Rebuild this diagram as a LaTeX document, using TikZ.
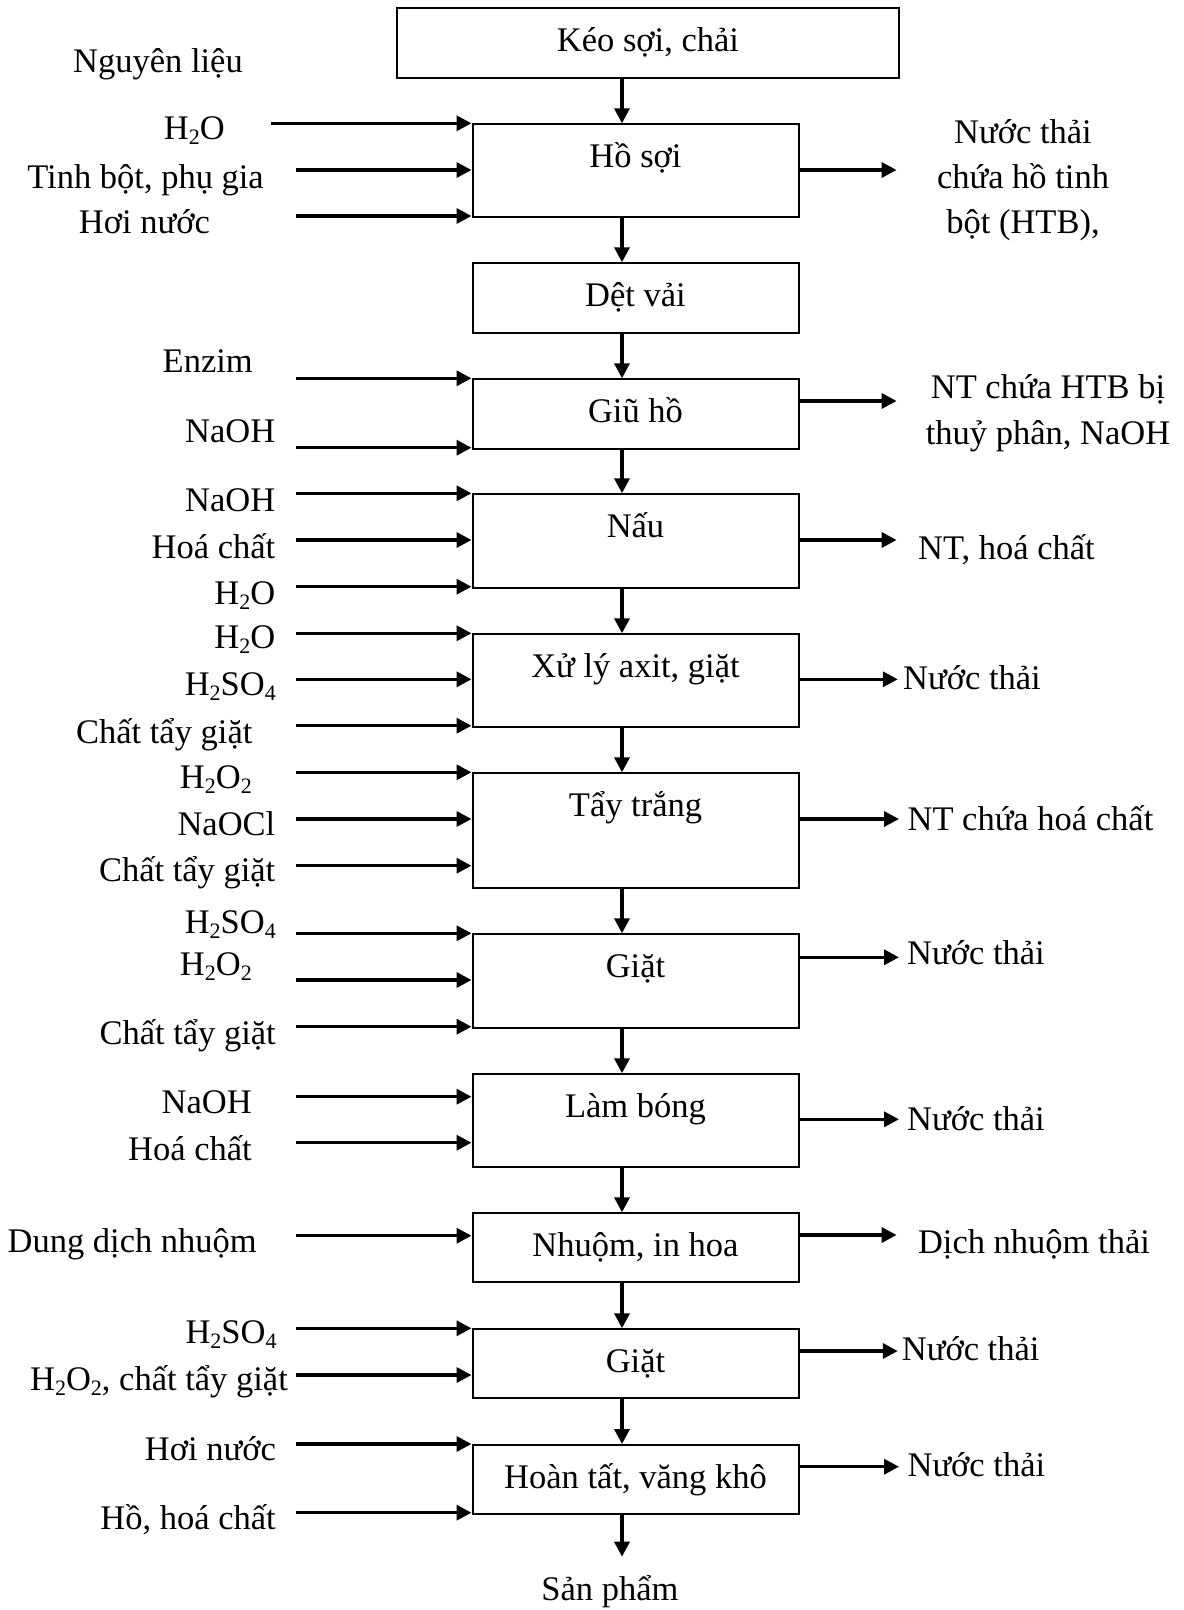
\documentclass[tikz,border=0pt]{standalone}
\usepackage{fontspec}
\setmainfont{Liberation Serif}
\usetikzlibrary{arrows.meta}
\newcommand\sbs[1]{\raisebox{-5pt}{\fontsize{22pt}{22pt}\selectfont #1}}
\begin{document}
\begin{tikzpicture}[x=1pt,y=-1pt,
  every node/.style={font=\fontsize{34.5pt}{41pt}\selectfont},
  proc/.style={draw,line width=2pt,anchor=north west,inner sep=0pt,text height=43pt,minimum width=326pt},
  arr/.style={line width=3.4pt,-{Triangle[length=15pt,width=15pt]}},
  lab/.style={anchor=base east,inner sep=0pt},
  rlab/.style={anchor=base west,inner sep=0pt}]
\useasboundingbox (0,0) rectangle (1184,1610);

% process boxes
\node[proc,minimum width=502pt,text depth=27pt] (keo) at (396,7.3) {Kéo sợi, chải};
\node[proc,text depth=49.7pt] (hosoi) at (471.5,123.3) {Hồ sợi};
\node[proc,text depth=26.7pt] (detvai) at (471.5,262.3) {Dệt vải};
\node[proc,text depth=26.4pt] (giuho) at (471.5,378.3) {Giũ hồ};
\node[proc,text depth=50.4pt] (nau) at (471.5,493.3) {Nấu};
\node[proc,text depth=49.4pt] (xuly) at (471.5,633.3) {Xử lý axit, giặt};
\node[proc,text depth=72pt] (taytrang) at (471.5,772.3) {Tẩy trắng};
\node[proc,text depth=50.4pt] (giat) at (471.5,933.3) {Giặt};
\node[proc,text depth=49.4pt] (lambong) at (471.5,1073.3) {Làm bóng};
\node[proc,text depth=25.7pt] (nhuom) at (471.5,1212.3) {Nhuộm, in hoa};
\node[proc,text depth=26pt] (giat2) at (471.5,1328.3) {Giặt};
\node[proc,text depth=25.7pt] (hoantat) at (471.5,1444) {Hoàn tất, văng khô};

% main flow
\coordinate (sp) at (622,0);
\foreach \a/\b in {keo/hosoi,hosoi/detvai,detvai/giuho,giuho/nau,nau/xuly,xuly/taytrang,
  taytrang/giat,giat/lambong,lambong/nhuom,nhuom/giat2,giat2/hoantat}
  \draw[arr] (\a.south -| sp) -- (\b.north -| sp);
\coordinate (endflow) at (622,1556.7);
\draw[arr] (hoantat.south -| sp) -- (endflow);
\node[anchor=base,inner sep=0pt] (sanpham) at (610,1600) {Sản phẩm};

% input arrows
\foreach \b/\y/\x [count=\i] in {hosoi/123.3/271,hosoi/170/296,hosoi/216/296,
  giuho/378.3/296,giuho/447.7/296,
  nau/493.3/296,nau/540/296,nau/586.7/296,
  xuly/633.3/296,xuly/679.3/296,xuly/725.7/296,
  taytrang/772.3/296,taytrang/819/296,taytrang/865.7/296,
  giat/933.3/296,giat/980/296,giat/1026.7/296,
  lambong/1096.7/296,lambong/1142.7/296,
  nhuom/1235.7/296,
  giat2/1328.3/296,giat2/1375/296,
  hoantat/1444/296,hoantat/1512.7/296}
{
  \coordinate (in\i) at (\x,\y);
  \draw[arr] (in\i) -- (in\i -| \b.west);
}

% input labels
\node[anchor=base,inner sep=0pt] (nguyenlieu) at (158,72) {Nguyên liệu};
\node[lab] (l1) at (225,139) {H\sbs{2}O};
\node[lab] (l2) at (264,188) {Tinh bột, phụ gia};
\node[lab] (l3) at (210,233.3) {Hơi nước};
\node[lab] (l4) at (253,372.7) {Enzim};
\node[lab] (l5) at (275.5,442.7) {NaOH};
\node[lab] (l6) at (275.5,511.7) {NaOH};
\node[lab] (l7) at (275.5,558.3) {Hoá chất};
\node[lab] (l8) at (275.5,604) {H\sbs{2}O};
\node[lab] (l9) at (275.5,648.3) {H\sbs{2}O};
\node[lab] (l10) at (276,695) {H\sbs{2}SO\sbs{4}};
\node[lab] (l11) at (252.6,743.3) {Chất tẩy giặt};
\node[lab] (l12) at (252,788.3) {H\sbs{2}O\sbs{2}};
\node[lab] (l13) at (275.5,835.7) {NaOCl};
\node[lab] (l14) at (275.5,881.7) {Chất tẩy giặt};
\node[lab] (l15) at (276,933.3) {H\sbs{2}SO\sbs{4}};
\node[lab] (l16) at (252,975) {H\sbs{2}O\sbs{2}};
\node[lab] (l17) at (276,1044) {Chất tẩy giặt};
\node[lab] (l18) at (252,1113.3) {NaOH};
\node[lab] (l19) at (252,1160) {Hoá chất};
\node[lab] (l20) at (257,1252.3) {Dung dịch nhuộm};
\node[lab] (l21) at (276.8,1343.3) {H\sbs{2}SO\sbs{4}};
\node[lab] (l22) at (288,1390.7) {H\sbs{2}O\sbs{2}, chất tẩy giặt};
\node[lab] (l23) at (276,1460.7) {Hơi nước};
\node[lab] (l24) at (276,1529.3) {Hồ, hoá chất};

% output arrows
\foreach \b/\y/\x [count=\i] in {hosoi/170/896.6,giuho/401/896.6,nau/540/896.6,
  xuly/679.3/897.8,taytrang/819/899,giat/957.3/899,lambong/1119.3/899,
  nhuom/1235/896.6,giat2/1351/897.8,hoantat/1466.7/899}
{
  \coordinate (out\i) at (\x,\y);
  \draw[arr] (out\i -| \b.east) -- (out\i);
}

% output labels
\node[align=center,inner sep=0pt,font=\fontsize{34.5pt}{45pt}\selectfont] (r1) at (1023,180.5) {Nước thải\\chứa hồ tinh\\bột (HTB),};
\node[align=center,inner sep=0pt,font=\fontsize{34.5pt}{46pt}\selectfont] (r2) at (1048,413) {NT chứa HTB bị\\thuỷ phân, NaOH};
\node[rlab] (r3) at (918,559.3) {NT, hoá chất};
\node[rlab] (r4) at (903,689.3) {Nước thải};
\node[rlab] (r5) at (907.4,830.7) {NT chứa hoá chất};
\node[rlab] (r6) at (907,964.3) {Nước thải};
\node[rlab] (r7) at (907,1130) {Nước thải};
\node[rlab] (r8) at (917.8,1253.3) {Dịch nhuộm thải};
\node[rlab] (r9) at (901.7,1360) {Nước thải};
\node[rlab] (r10) at (907.4,1476.7) {Nước thải};
\end{tikzpicture}
\end{document}
